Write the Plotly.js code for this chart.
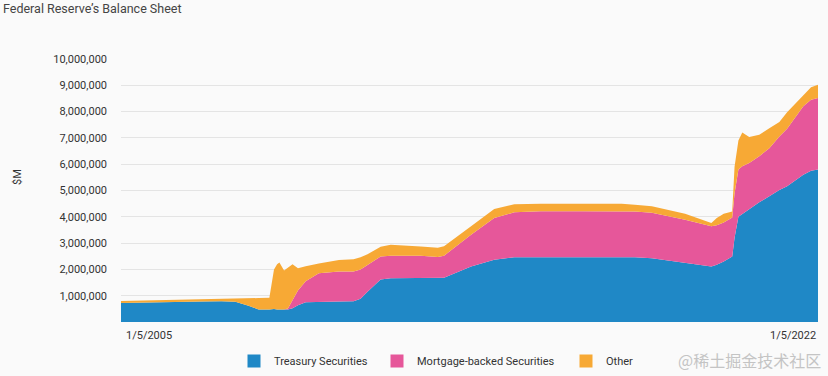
<!DOCTYPE html>
<html>
<head>
<meta charset="utf-8">
<script src="https://cdn.plot.ly/plotly-3.0.1.min.js"></script>
<style>
  html, body { margin: 0; padding: 0; background: #fafafa; }
  #chart { width: 828px; height: 376px; }
</style>
</head>
<body>
<div id="chart"></div>
<script>
// Weekly dates sampled from the chart (values in $M)
const dates = [
  '2005-01-05','2005-07-06','2006-01-04','2006-07-05','2007-01-03','2007-07-04','2007-11-07',
  '2008-03-05','2008-06-04','2008-09-10','2008-10-01','2008-10-22','2008-11-19','2008-12-10',
  '2009-01-21','2009-02-25','2009-04-08','2009-05-27','2009-08-05','2009-12-02','2010-06-02',
  '2010-10-13','2010-12-15','2011-02-16','2011-06-15','2011-09-14','2012-02-15','2012-06-13',
  '2012-11-14','2013-01-09','2013-09-11','2014-04-09','2014-10-08','2015-06-03','2016-06-01',
  '2017-06-07','2017-10-04','2018-03-07','2019-01-02','2019-08-28','2019-10-16','2019-12-18',
  '2020-03-04','2020-03-25','2020-04-29','2020-06-03','2020-08-05','2020-11-04','2021-02-03',
  '2021-05-05','2021-07-14','2021-12-08','2022-02-16','2022-04-20'
];
const treasury = [
  720000,740000,760000,770000,780000,790000,770000,
  620000,480000,480000,490000,490000,480000,480000,
  480000,480000,520000,640000,750000,770000,780000,
  790000,880000,1150000,1620000,1660000,1670000,1670000,
  1660000,1680000,2110000,2370000,2460000,2460000,2460000,
  2460000,2460000,2420000,2240000,2110000,2180000,2300000,
  2490000,3200000,4000000,4100000,4300000,4550000,4780000,
  5020000,5160000,5600000,5750000,5800000
];
const mbs = [
  0,0,0,0,0,0,0,
  0,0,0,0,0,0,0,
  0,30000,330000,560000,800000,1080000,1140000,
  1130000,1120000,1030000,870000,860000,850000,850000,
  810000,840000,1210000,1580000,1710000,1750000,1750000,
  1750000,1740000,1730000,1650000,1530000,1500000,1480000,
  1480000,1700000,1800000,1820000,1750000,1750000,1830000,
  2030000,2190000,2600000,2700000,2720000
];
const other = [
  80000,80000,80000,90000,90000,100000,130000,
  290000,430000,440000,1010000,1510000,1720000,1780000,
  1480000,1560000,1350000,840000,570000,370000,440000,
  470000,460000,400000,370000,420000,390000,350000,
  350000,360000,320000,350000,310000,290000,290000,
  290000,260000,250000,230000,120000,270000,340000,
  230000,1000000,1100000,1290000,980000,820000,760000,
  550000,630000,440000,480000,500000
];
const seriesNames = ['Treasury Securities','Mortgage-backed Securities','Other'];
const seriesColors = ['#1f88c6','#e6579a','#f7a935'];
const yTickVals = [1000000,2000000,3000000,4000000,5000000,6000000,7000000,8000000,9000000,10000000];
const xLabels = ['1/5/2005','1/5/2022'];

const FONT = 'Roboto, sans-serif';
const seriesValues = [treasury, mbs, other];
const traces = [];
seriesValues.forEach((vals, i) => {
  traces.push({
    type: 'scatter', mode: 'lines', x: dates, y: vals, stackgroup: 'one',
    name: seriesNames[i], line: {width: 0, color: seriesColors[i]},
    fillcolor: seriesColors[i], showlegend: false, hoverinfo: 'x+y+name'
  });
});
// legend swatches
const legendIds = ['legend','legend2','legend3'];
seriesNames.forEach((n, i) => {
  traces.push({
    type: 'scatter', mode: 'markers', x: [null], y: [null], name: n,
    marker: {symbol: 'square', size: 13, color: seriesColors[i]},
    legend: legendIds[i], showlegend: true
  });
});

const legendBase = {
  orientation: 'h', xref: 'container', yref: 'container', xanchor: 'left', yanchor: 'middle',
  y: 1 - 361/376, bgcolor: 'rgba(0,0,0,0)', font: {family: FONT, size: 11, color: '#333'}
};
const legendLefts = [248, 391, 580];

const plotTop = 59, plotH = 263, plotL = 121, plotW = 697;
const layout = {
  width: 828, height: 376,
  paper_bgcolor: '#fafafa', plot_bgcolor: '#fafafa',
  margin: {l: plotL, r: 10, t: plotTop, b: 54},
  font: {family: FONT, color: '#333'},
  title: {text: 'Federal Reserve’s Balance Sheet', x: 3/828, xanchor: 'left', xref: 'container',
          y: 1 - 9/376, yanchor: 'middle', yref: 'container',
          font: {family: FONT, size: 12.5, color: '#444'}},
  xaxis: {type: 'date', range: [dates[0], dates[dates.length-1]], showgrid: false,
          showticklabels: false, ticks: '', zeroline: false, showline: false, fixedrange: true},
  yaxis: {range: [0, 10000000], tickvals: yTickVals, tickformat: ',d', showgrid: true,
          gridcolor: '#e4e4e4', gridwidth: 1, zeroline: false, showline: false, ticks: '',
          ticklabelstandoff: 13, tickfont: {family: FONT, size: 11, color: '#333'}},
  annotations: [
    {x: dates[0], xref: 'x', xanchor: 'left', y: 0, yref: 'paper', yanchor: 'top', yshift: -5,
     xshift: 3, text: xLabels[0], showarrow: false, font: {family: FONT, size: 11, color: '#333'}},
    {x: dates[dates.length-1], xref: 'x', xanchor: 'right', y: 0, yref: 'paper', yanchor: 'top', yshift: -5,
     text: xLabels[1], showarrow: false, font: {family: FONT, size: 11, color: '#333'}},
    {x: (17 - plotL) / plotW, xref: 'paper', xanchor: 'center', y: 1 - (177 - plotTop) / plotH, yref: 'paper',
     yanchor: 'middle', textangle: -90, text: '$M', showarrow: false, font: {family: FONT, size: 11, color: '#333'}},
    {x: (823 - plotL) / plotW, xref: 'paper', xanchor: 'right', y: 1 - (360 - plotTop) / plotH, yref: 'paper',
     yanchor: 'middle', text: '@稀土掘金技术社区', showarrow: false,
     font: {family: '"Noto Sans CJK SC", sans-serif', size: 16, color: '#c4c4c4'}}
  ],
  showlegend: true
};
legendIds.forEach((id, i) => {
  layout[id] = Object.assign({}, legendBase, {x: (legendLefts[i] - 14) / 828});
});

Plotly.newPlot('chart', traces, layout, {displayModeBar: false, staticPlot: true});
</script>
</body>
</html>
